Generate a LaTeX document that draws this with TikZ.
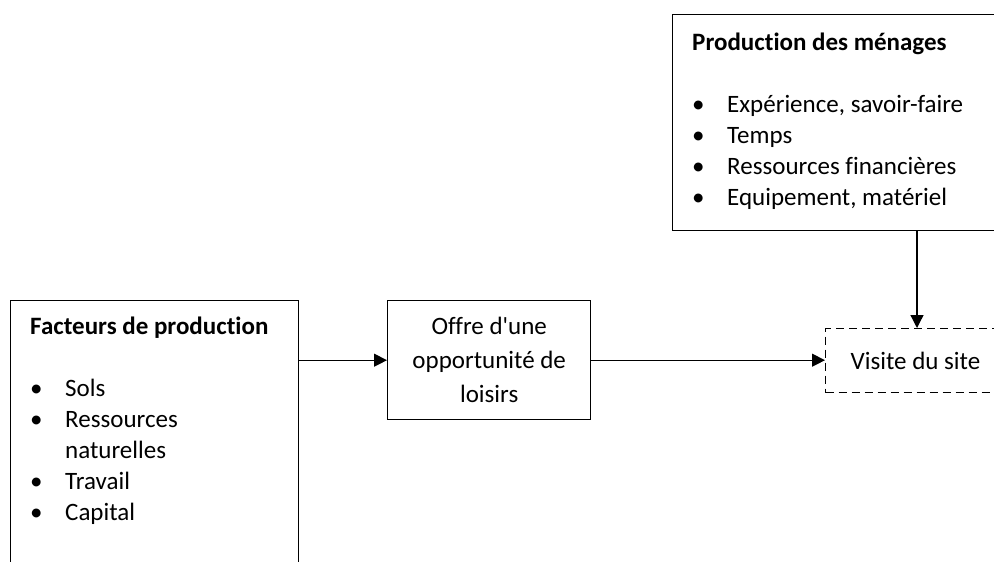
\documentclass[tikz,border=0pt]{standalone}
\usepackage{fontspec}
\setmainfont{Carlito}[Ligatures=NoCommon]
\usetikzlibrary{positioning,arrows.meta}

\tikzset{
  box/.style={draw, line width=1.4pt, anchor=north west},
  dashbox/.style={box, dash pattern=on 8pt off 5pt},
  flow/.style={line width=1.3pt, -{Triangle[length=13pt,width=13pt]}},
  list/.style={anchor=north west, inner sep=0pt, align=left}
}

% bullet list: bullet column, then the item
\newcommand{\itm}[1]{\textbullet & #1\\}

\begin{document}
\begin{tikzpicture}[x=1pt, y=-1pt, font=\fontsize{25}{31}\selectfont]
    \useasboundingbox (0,0) rectangle (994,562);
    \clip (0,0) rectangle (994,562);

    % the three frames, two of them run off the page
    \node[box, minimum width=288, minimum height=320] (facteurs) at (10,300) {};
    \node[box, minimum width=400, minimum height=216] (menages) at (672,14) {};
    \node[box, minimum width=203, minimum height=119, align=center,
          font=\fontsize{25}{34}\selectfont] (offre) at (387,300)
          {Offre d\textquotesingle une\\opportunité de\\loisirs};
    \node[dashbox, minimum height=64, inner xsep=25pt] (visite) at (825,328)
          {\makebox[200pt][l]{Visite du site}};

    % contents of the two list frames
    \node[list] (facteurslist) at ([shift={(20,13)}]facteurs.north west) {%
      \begin{tabular}{@{}p{35pt}@{}l@{}}
        \multicolumn{2}{@{}l@{}}{\bfseries Facteurs de production}\\
        & \\
        \itm{Sols}
        \itm{Ressources}
        & naturelles\\
        \itm{Travail}
        \itm{Capital}
      \end{tabular}};
    \node[list] (menageslist) at ([shift={(20,15)}]menages.north west) {%
      \begin{tabular}{@{}p{35pt}@{}l@{}}
        \multicolumn{2}{@{}l@{}}{\bfseries Production des ménages}\\
        & \\
        \itm{Expérience, savoir-faire}
        \itm{Temps}
        \itm{Ressources financières}
        \itm{Equipement, matériel}
      \end{tabular}};

    % arrows
    \draw[flow] (facteurs.east |- offre.west) -- (offre.west);
    \draw[flow] (offre.east) -- (offre.east -| visite.west);
    \draw[flow] ([xshift=92]visite.north west |- menages.south) -- ([xshift=92]visite.north west);
\end{tikzpicture}
\end{document}
